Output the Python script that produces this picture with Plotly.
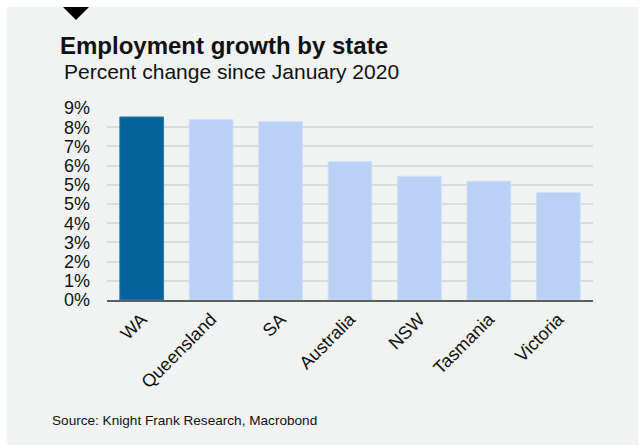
import plotly.graph_objects as go

# Employment growth since January 2020, by state (percent)
states = ["WA", "Queensland", "SA", "Australia", "NSW", "Tasmania", "Victoria"]
growth = [8.58, 8.46, 8.36, 6.49, 5.80, 5.57, 5.04]
highlight = "WA"

# y-axis ticks every 0.9 points, labelled as whole percentages
tick_values = [0, 0.9, 1.8, 2.7, 3.6, 4.5, 5.4, 6.3, 7.2, 8.1, 9.0]
tick_labels = ["0%", "1%", "2%", "3%", "4%", "5%", "5%", "6%", "7%", "8%", "9%"]

W, H = 641, 446
ML, MR, MT, MB = 107, 48, 108, 146
PW, PH = W - ML - MR, H - MT - MB

PANEL = "#f0f3f2"
DARK = "#03639b"
LIGHT = "#bbd0f5"
FONT = "Liberation Sans"


def px(x):
    return (x - ML) / PW


def py(y):
    return 1 - (y - MT) / PH


colors = [DARK if s == highlight else LIGHT for s in states]
edges = ["#2f7bb0" if s == highlight else "#cfdefa" for s in states]

fig = go.Figure(
    go.Bar(
        x=states,
        y=growth,
        marker=dict(color=colors, line=dict(color=edges, width=1)),
        hoverinfo="x+y",
    )
)

shapes = [
    dict(type="rect", xref="paper", yref="paper", layer="below",
         x0=px(7), x1=px(638), y0=py(445), y1=py(7),
         fillcolor=PANEL, line=dict(width=0)),
    dict(type="path", xref="paper", yref="paper",
         path=f"M {px(63)} {py(7)} L {px(89)} {py(7)} L {px(76)} {py(20)} Z",
         fillcolor="#000000", line=dict(width=0)),
]

annotations = [
    dict(text="Employment growth by state", x=px(58), y=py(45), xref="paper", yref="paper",
         xanchor="left", yanchor="middle", showarrow=False,
         font=dict(family=FONT, size=24, color="#111111", weight="bold")),
    dict(text="Percent change since January 2020", x=px(62), y=py(71), xref="paper", yref="paper",
         xanchor="left", yanchor="middle", showarrow=False,
         font=dict(family=FONT, size=21, color="#111111")),
    dict(text="Source: Knight Frank Research, Macrobond", x=px(50), y=py(420), xref="paper", yref="paper",
         xanchor="left", yanchor="middle", showarrow=False,
         font=dict(family=FONT, size=13.6, color="#111111")),
]

fig.update_layout(
    width=W, height=H,
    margin=dict(l=ML, r=MR, t=MT, b=MB, pad=0),
    paper_bgcolor="#ffffff",
    plot_bgcolor=PANEL,
    bargap=0.37,
    showlegend=False,
    shapes=shapes,
    annotations=annotations,
    font=dict(family=FONT, color="#111111"),
)

fig.update_xaxes(
    tickangle=-45,
    tickfont=dict(family=FONT, size=18, color="#111111"),
    showgrid=False,
    showline=True, linecolor="#5c5f60", linewidth=1.5,
    ticks="",
)

fig.update_yaxes(
    range=[0, 9],
    tickvals=tick_values,
    ticktext=tick_labels,
    tickfont=dict(family=FONT, size=18, color="#111111"),
    showgrid=True, gridcolor="#d9dcdb", gridwidth=1.5,
    zeroline=False,
    ticks="", ticklabelstandoff=16,
)

fig.write_html("out.html")
